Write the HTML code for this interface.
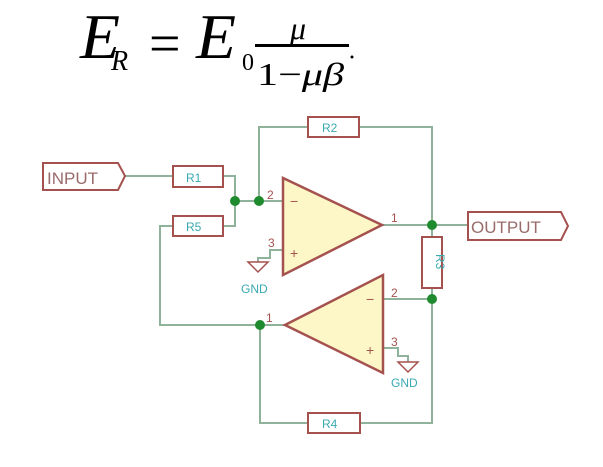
<!DOCTYPE html>
<html><head><meta charset="utf-8"><style>
html,body{margin:0;padding:0;background:#fff;}
svg{display:block;}
</style></head><body>
<svg width="603" height="467" viewBox="0 0 603 467" xmlns="http://www.w3.org/2000/svg">
<g font-family="Liberation Serif, serif" font-style="italic" fill="#000">
  <text x="80" y="58" font-size="64" textLength="40" lengthAdjust="spacingAndGlyphs">E</text>
  <text x="111" y="70" font-size="28">R</text>
  <text x="149" y="62" font-size="56" font-style="normal">=</text>
  <text x="196" y="58" font-size="64" textLength="40" lengthAdjust="spacingAndGlyphs">E</text>
  <text x="242" y="70" font-size="24" font-style="normal">0</text>
  <text x="290" y="39" font-size="32">μ</text>
  <rect x="255" y="44" width="94" height="3"/>
  <text x="257" y="85" font-size="32" textLength="87" lengthAdjust="spacingAndGlyphs"><tspan font-style="normal">1−</tspan>μβ</text>
  <circle cx="352" cy="57" r="1.5"/>
</g>
<g stroke="#8fb39a" stroke-width="2" fill="none">
  <path d="M124 176 H173 M223 176 H235 V226 H223"/>
  <path d="M235 201 H283 M259 201 V127 H308 M359 127 H432 V237"/>
  <path d="M173 226 H160 V325 H285"/>
  <path d="M382 225 H468 M432 288 V423 H360 M308 423 H260 V325"/>
  <path d="M383 299 H432"/>
  <path d="M283 250 H270 V258 H258 V262 M383 348 H398 V356 H408 V362"/>
</g>
<g fill="#fdf7c8" stroke="#a5524f" stroke-width="2.5">
  <polygon points="283,178 283,275 382,225"/>
  <polygon points="383,275 383,373 285,325"/>
</g>
<g stroke="#a5524f" stroke-width="2" fill="#fff">
  <polygon points="43,163 118,163 125,176 118,190 43,190"/>
  <polygon points="468,212 561,212 568,226 561,240 468,240"/>
  <rect x="173" y="166" width="50" height="21"/>
  <rect x="173" y="216" width="50" height="20"/>
  <rect x="308" y="117" width="51" height="20"/>
  <rect x="308" y="413" width="52" height="20"/>
  <rect x="422" y="237" width="20" height="51"/>
</g>
<g stroke="#a5524f" stroke-width="1.5" fill="none">
  <polygon points="248,262 268,262 258,272"/>
  <polygon points="398,362 418,362 408,372"/>
</g>
<g fill="#1f8a2e">
  <circle cx="235" cy="201" r="5"/><circle cx="259" cy="201" r="5"/>
  <circle cx="432" cy="225" r="5"/><circle cx="432" cy="299" r="5"/>
  <circle cx="260" cy="325" r="5"/>
</g>
<g font-family="Liberation Sans, sans-serif" font-size="17" fill="#9a6b6b">
  <text x="47" y="184">INPUT</text>
  <text x="471" y="233">OUTPUT</text>
</g>
<g font-family="Liberation Sans, sans-serif" font-size="12" fill="#3aa9b0">
  <text x="186" y="182">R1</text><text x="186" y="231">R5</text>
  <text x="322" y="132">R2</text><text x="322" y="428">R4</text>
  <text x="436" y="254" transform="rotate(90 436 254)">R3</text>
  <text x="241" y="293">GND</text><text x="391" y="387">GND</text>
</g>
<g font-family="Liberation Sans, sans-serif" font-size="12" fill="#a5524f">
  <text x="267" y="199">2</text><text x="268" y="247">3</text><text x="391" y="222">1</text>
  <text x="391" y="297">2</text><text x="391" y="346">3</text><text x="266" y="322">1</text>
</g>
<g font-family="Liberation Sans, sans-serif" font-size="14" fill="#a5524f">
  <text x="290" y="206">−</text><text x="290" y="258">+</text>
  <text x="366" y="304">−</text><text x="366" y="355">+</text>
</g>
</svg>
</body></html>
